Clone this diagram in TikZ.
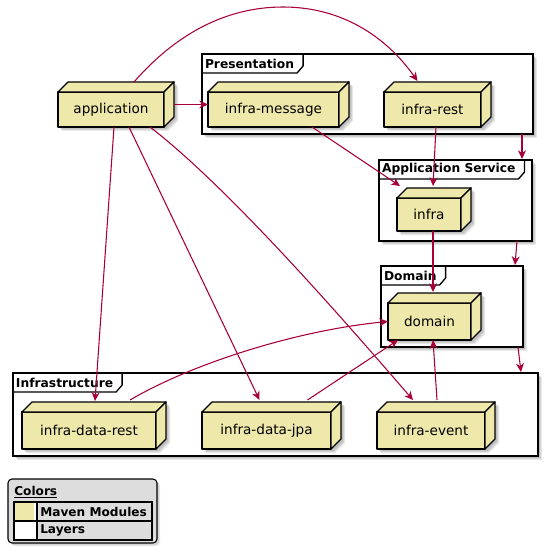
\documentclass[tikz,border=0pt]{standalone}
\usepackage{fontspec}
\setmainfont{DejaVu Sans}
\usetikzlibrary{arrows.meta}

\definecolor{modfill}{HTML}{EEE8AA}
\definecolor{arrowred}{HTML}{A80036}
\definecolor{legendbg}{HTML}{DDDDDD}

\pgfdeclarelayer{frames}
\pgfdeclarelayer{shade}
\pgfsetlayers{frames,shade,main}

\tikzset{
  module/.style={draw, fill=modfill, line width=1pt, line join=round,
    inner sep=0pt, outer sep=0pt, font=\fontsize{10.2}{12}\selectfont},
  face/.style={draw, fill=modfill, line width=1pt, line join=round},
  layerbox/.style={draw, fill=white, line width=1pt, inner sep=0pt, outer sep=0pt},
  layertitle/.style={font=\fontsize{9.2}{11}\selectfont\bfseries, inner xsep=2.25pt,
    inner ysep=0pt, minimum height=14.25pt, anchor=north west, outer sep=0pt},
  tab/.style={draw, line width=1pt, line join=round},
  dep/.style={draw=arrowred, line width=0.8pt,
    -{Stealth[length=6.5pt,width=6pt,inset=2pt]}},
  softshade/.style={fill=black, fill opacity=0.09},
  legendtext/.style={font=\fontsize{9.1}{11}\selectfont\bfseries, inner sep=0pt, anchor=west},
}

% top and side faces of a module box, plus its soft shadow
\newcommand\moduledepth[1]{%
  \path[face] (#1.north west) -- ([shift={(10,-10)}]#1.north west)
    -- ([shift={(10,-10)}]#1.north east) -- (#1.north east) -- cycle;
  \path[face] (#1.north east) -- ([shift={(10,-10)}]#1.north east)
    -- ([shift={(10,-10)}]#1.south east) -- (#1.south east) -- cycle;
  \begin{pgfonlayer}{shade}
    \foreach \s in {2,3,4}{
      \fill[softshade] ([shift={(\s,\s)}]#1.north west) -- ([shift={(10+\s,-10+\s)}]#1.north west)
        -- ([shift={(10+\s,-10+\s)}]#1.north east) -- ([shift={(10+\s,-10+\s)}]#1.south east)
        -- ([shift={(\s,\s)}]#1.south east) -- ([shift={(\s,\s)}]#1.south west) -- cycle;
    }
  \end{pgfonlayer}}

% frame shadow (drawn on the frames layer before the frame itself)
\newcommand\frameshade[4]{%
  \foreach \s in {2,3,4}{
    \fill[softshade] (#1+\s,#2+\s) rectangle (#3+\s,#4+\s);
  }}

\begin{document}
\begin{tikzpicture}[x=0.75pt, y=-0.75pt]
\useasboundingbox (0,0) rectangle (546,552);

% ---- layers (frames) ----
\begin{pgfonlayer}{frames}
  \frameshade{202}{54}{533}{134}
  \node[layerbox, minimum width=248.25pt, minimum height=60pt] (pres) at (367.5,94) {};
  \node[layertitle] (presL) at (pres.north west) {Presentation};
  \draw[tab] (presL.south west) -- (presL.south east) -- ([shift={(6,-7)}]presL.south east)
    -- ([shift={(6,0)}]presL.north east);

  \frameshade{379}{160}{532}{241}
  \node[layerbox, minimum width=114.75pt, minimum height=60.75pt] (asvc) at (455.5,200.5) {};
  \node[layertitle] (asvcL) at (asvc.north west) {Application Service};
  \draw[tab] (asvcL.south west) -- (asvcL.south east) -- ([shift={(6,-7)}]asvcL.south east)
    -- ([shift={(6,0)}]asvcL.north east);

  \frameshade{381}{266}{523}{347}
  \node[layerbox, minimum width=106.5pt, minimum height=60.75pt] (dom) at (452,306.5) {};
  \node[layertitle] (domL) at (dom.north west) {Domain};
  \draw[tab] (domL.south west) -- (domL.south east) -- ([shift={(6,-7)}]domL.south east)
    -- ([shift={(6,0)}]domL.north east);

  \frameshade{13}{373}{538}{456}
  \node[layerbox, minimum width=393.75pt, minimum height=62.25pt] (infr) at (275.5,414.5) {};
  \node[layertitle] (infrL) at (infr.north west) {Infrastructure};
  \draw[tab] (infrL.south west) -- (infrL.south east) -- ([shift={(6,-7)}]infrL.south east)
    -- ([shift={(6,0)}]infrL.north east);
\end{pgfonlayer}

% ---- maven modules ----
\node[module, minimum width=79.5pt, minimum height=26.25pt] (app) at (111,109.5) {application};
\moduledepth{app}
\node[module, minimum width=98.25pt, minimum height=26.25pt] (msg) at (273.5,109.5) {infra-message};
\moduledepth{msg}
\node[module, minimum width=72.75pt, minimum height=26.25pt] (rest) at (432.5,109.5) {infra-rest};
\moduledepth{rest}
\node[module, minimum width=48pt, minimum height=24.75pt] (infra) at (429,214.5) {infra};
\moduledepth{infra}
\node[module, minimum width=62.25pt, minimum height=27.75pt] (domain) at (429.5,321.5) {domain};
\moduledepth{domain}
\node[module, minimum width=100.5pt, minimum height=27.75pt] (drest) at (89,430.5) {infra-data-rest};
\moduledepth{drest}
\node[module, minimum width=96.75pt, minimum height=27.75pt] (jpa) at (266.5,430.5) {infra-data-jpa};
\moduledepth{jpa}
\node[module, minimum width=81pt, minimum height=27.75pt] (event) at (431,430.5) {infra-event};
\moduledepth{event}

% ---- dependencies ----
\draw[dep] ([shift={(23,-10)}]app.north) .. controls (175,35) and (225,7) .. (283,7)
  .. controls (340,7) and (385,35) .. ([shift={(-15,-11)}]rest.north);
\draw[dep] ([shift={(10,-5)}]app.east) -- ([shift={(0,-5)}]msg.west);
\draw[dep] ([shift={(3,0)}]app.south) -- ([shift={(6,-11)}]drest.north);
\draw[dep] ([shift={(18,0)}]app.south) -- ([shift={(-7,-12)}]jpa.north);
\draw[dep] ([shift={(39,0)}]app.south) .. controls (228,187) and (343,319) .. ([shift={(-18,-12)}]event.north);
\draw[dep] ([shift={(38.5,0)}]msg.south) -- ([shift={(-29,-12)}]infra.north);
\draw[dep] ([shift={(3.5,0)}]rest.south) -- ([shift={(4,-12)}]infra.north);
\draw[dep] ([shift={(4,0)}]infra.south) -- ([shift={(3.5,-11)}]domain.north);
\draw[dep] ([shift={(41,-12)}]drest.north) .. controls (195,362) and (300,330) .. (domain.west);
\draw[dep] ([shift={(41,-12)}]jpa.north) -- ([shift={(10,0)}]domain.south west);
\draw[dep] ([shift={(6,-12)}]event.north) -- ([shift={(3.5,0)}]domain.south);

% layer-to-layer dependencies
\draw[dep] ([shift={(-11,0)}]pres.south east) -- ([shift={(-10,-1)}]asvc.north east);
\draw[dep] ([shift={(-15,0)}]asvc.south east) -- ([shift={(-8,-1)}]dom.north east);
\draw[dep] ([shift={(-5,0)}]dom.south east) -- ([shift={(-17,-1)}]infr.north east);

% ---- legend ----
\begin{pgfonlayer}{shade}
  \foreach \s in {2,3}{
    \fill[softshade, rounded corners=3pt] (8+\s,479+\s) rectangle (157+\s,543+\s);
  }
\end{pgfonlayer}
\node[draw, fill=legendbg, rounded corners=3pt, line width=0.8pt, inner sep=0pt,
  minimum width=111.75pt, minimum height=48pt] (legend) at (82.5,511) {};
\node[legendtext] (legtitle) at (14,492) {\underline{Colors}};
\fill[modfill] (14,502) rectangle (34,521);
\fill[white] (34,502) rectangle (37,521);
\fill[white] (14,521) rectangle (37,540);
\fill[white] (37,502) rectangle (152,540);
\fill[legendbg] (37,502) rectangle (152,540);
\draw[line width=0.8pt] (14,502) rectangle (152,540);
\draw[line width=0.8pt] (14,521) -- (152,521);
\draw[line width=0.8pt] (37,502) -- (37,540);
\node[legendtext] (legmod) at (40,511.5) {Maven Modules};
\node[legendtext] (leglay) at (40,530.5) {Layers};
\end{tikzpicture}
\end{document}
